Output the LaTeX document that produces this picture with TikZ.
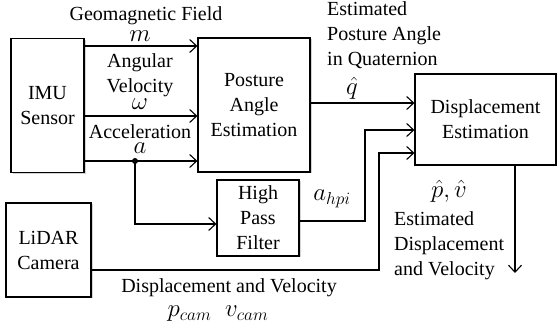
\documentclass[tikz,border=0pt]{standalone}
\usepackage{fontspec}
\setmainfont{Liberation Serif}
\usetikzlibrary{positioning,calc,arrows.meta,shadows}

\tikzset{
  block/.style={draw, line width=1.1pt, fill=white, align=center, inner sep=2pt,
    drop shadow={shadow xshift=1.5pt, shadow yshift=-1.5pt, opacity=0.35}},
  sig/.style={-{Straight Barb[length=7pt,width=13pt]}, line width=1.1pt},
  lbl/.style={inner sep=0pt, align=center},
  sym/.style={lbl, font=\fontsize{25}{28}\selectfont},
}

\begin{document}
\begin{tikzpicture}[x=1pt, y=-1pt, font=\fontsize{20}{25}\selectfont]
\useasboundingbox (0,0) rectangle (557,336);

% blocks
\node[block, minimum width=73pt, minimum height=134pt] (imu) at (47.5,105.5) {IMU\\Sensor};
\node[block, minimum width=112pt, minimum height=134pt] (post) at (254,105) {Posture\\Angle\\Estimation};
\node[block, minimum width=141pt, minimum height=91pt] (disp) at (485.5,119.5) {Displacement\\Estimation};
\node[block, minimum width=82pt, minimum height=76pt] (hpf) at (258,218) {High\\Pass\\Filter};
\node[block, minimum width=85pt, minimum height=94pt] (lidar) at (48.5,250) {LiDAR\\Camera};

% signal levels
\coordinate (ym) at (0,46);
\coordinate (yw) at (0,116);
\coordinate (acc) at (135,161);
\coordinate (yq) at (0,103);
\coordinate (yf) at (0,224);
\coordinate (yh) at (0,221);
\coordinate (yc) at (0,270);
\coordinate (hpi) at (365,130);
\coordinate (cam) at (379,153);
\coordinate (out) at (515,273);

% connectors
\draw[sig] (imu.east |- ym) -- (post.west |- ym);
\draw[sig] (imu.east |- yw) -- (post.west |- yw);
\draw[sig] (imu.east |- acc) -- (post.west |- acc);
\fill (acc) circle (3pt);
\draw[sig] (acc) |- (hpf.west |- yf);
\draw[sig] (post.east |- yq) -- (disp.west |- yq);
\draw[sig] (hpf.east |- yh) -| (hpi) -- (disp.west |- hpi);
\draw[sig] (lidar.east |- yc) -| (cam) -- (disp.west |- cam);
\draw[sig] (disp.south -| out) -- (out);

% labels
\node[lbl] (geo) at (146,16) {Geomagnetic Field};
\node[sym] (lm) at (140,36) {$m$};
\node[lbl] (ang) at (140,75) {Angular\\Velocity};
\node[sym] (lw) at (140,104) {$\omega$};
\node[lbl] (accl) at (140,132) {Acceleration};
\node[sym] (la) at (140,148) {$a$};
\node[lbl, anchor=west, align=left] (estq) at (327,35) {Estimated\\Posture Angle\\in Quaternion};
\node[sym] (lq) at (352,88) {$\hat{q}$};
\node[sym] (lhpi) at (332,199) {$a_{hpi}$};
\node[sym] (lpv) at (449,191) {$\hat{p},\hat{v}$};
\node[lbl, anchor=west, align=left] (estp) at (394,246) {Estimated\\Displacement\\and Velocity};
\node[lbl] (dv) at (229,288) {Displacement and Velocity};
\node[sym] (lcam) at (218,314) {$p_{cam}\;\;v_{cam}$};
\end{tikzpicture}
\end{document}
